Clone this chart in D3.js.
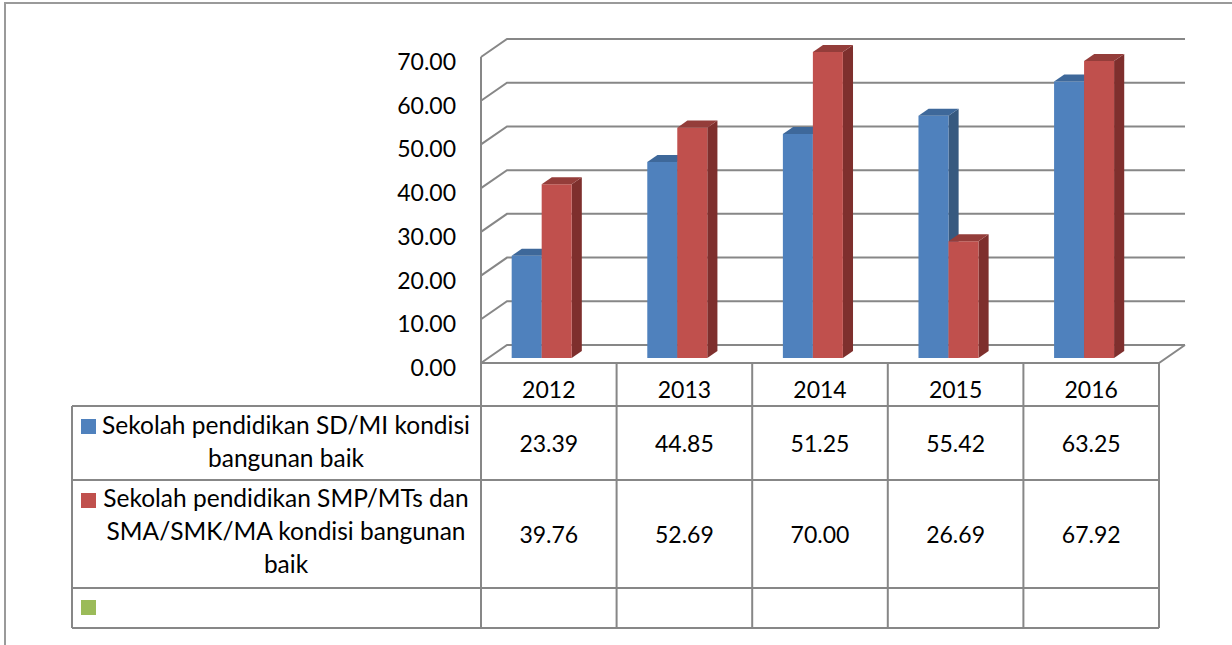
<!DOCTYPE html>
<html>
<head>
<meta charset="utf-8">
<script src="https://cdn.jsdelivr.net/npm/d3@7.9.0/dist/d3.min.js"></script>
<style>
  body { margin: 0; background: #fff; }
  svg text { font-family: Lato, "Open Sans", sans-serif; fill: #000; }
</style>
</head>
<body>
<svg id="chart" width="1232" height="645"></svg>
<script>
// data
const years = ["2012", "2013", "2014", "2015", "2016"];
const sdValues = [23.39, 44.85, 51.25, 55.42, 63.25];
const smpValues = [39.76, 52.69, 70.00, 26.69, 67.92];
const seriesNames = [
  "Sekolah pendidikan SD/MI kondisi\nbangunan baik",
  "Sekolah pendidikan SMP/MTs dan\nSMA/SMK/MA kondisi bangunan\nbaik",
  ""
];
const seriesColors = ["#4F81BD", "#C0504D", "#9BBB59"];
const sideColors = ["#37597F", "#7E2F2D"];
const topColors = ["#3E689A", "#943D3A"];
const yTicks = [0, 10, 20, 30, 40, 50, 60, 70];

const svg = d3.select("#chart");
const gridColor = "#878787";

// outer chart frame
svg.append("rect")
  .attr("x", 5).attr("y", 3)
  .attr("width", 1400).attr("height", 800)
  .attr("fill", "none").attr("stroke", "#9a9a9a").attr("stroke-width", 2);

// 3d box geometry
const left = 481, right = 1159, floorY = 363;
const DX = 26, DY = -18;
const y = d3.scaleLinear().domain([0, 70]).range([0, 306]);
const x = d3.scaleBand().domain(years).range([left, right]);
const inner = d3.scaleBand().domain([0, 1]).range([0, 60]);
const groupOffset = 23.4;
const barDepth = [0.28, 0.67];

function P(px, v, d) {
  return [px + d * DX, floorY - y(v) + d * DY];
}
const line = d3.line();

const grid = svg.append("g")
  .attr("stroke", gridColor).attr("stroke-width", 2).attr("fill", "none");

yTicks.forEach(t => {
  grid.append("path").attr("d", line([P(left, t, 0), P(left, t, 1), P(right, t, 1)]));
});
grid.append("path").attr("d", line([P(left, 70, 0), P(left, 0, 0), P(right, 0, 0), P(right, 0, 1)]));

// y tick labels
svg.append("g").selectAll("text")
  .data(yTicks)
  .join("text")
  .attr("x", 456)
  .attr("y", d => P(left, d, 0)[1] + 4)
  .attr("text-anchor", "end")
  .attr("dominant-baseline", "central")
  .style("font-size", "23px")
  .text(d => d.toFixed(2));

// bars
const series = [sdValues, smpValues];
const bars = svg.append("g");
years.forEach((yr, i) => {
  series.forEach((vals, s) => {
    const v = vals[i];
    const x0 = x(yr) + groupOffset + inner(s);
    const x1 = x0 + inner.bandwidth();
    const [d0, d1] = barDepth;
    const front = [P(x0, 0, d0), P(x1, 0, d0), P(x1, v, d0), P(x0, v, d0)];
    const top = [P(x0, v, d0), P(x1, v, d0), P(x1, v, d1), P(x0, v, d1)];
    const side = [P(x1, 0, d0), P(x1, 0, d1), P(x1, v, d1), P(x1, v, d0)];
    bars.append("path").attr("d", line(side) + "Z").attr("fill", sideColors[s]);
    bars.append("path").attr("d", line(front) + "Z").attr("fill", seriesColors[s]);
    bars.append("path").attr("d", line(top) + "Z").attr("fill", topColors[s]);
  });
});

// data table
const tableLeft = 72;
const rowLines = [406, 480, 588, 628];
const table = svg.append("g")
  .attr("stroke", gridColor).attr("stroke-width", 2).attr("fill", "none");
rowLines.forEach(ry => {
  table.append("path").attr("d", line([[tableLeft, ry], [right, ry]]));
});
table.append("path").attr("d", line([[tableLeft, rowLines[0]], [tableLeft, rowLines[3]]]));
years.concat(["end"]).forEach((yr, i) => {
  const cx = i < years.length ? x(yr) : right;
  table.append("path").attr("d", line([[cx, floorY], [cx, rowLines[3]]]));
});

// year header
svg.append("g").selectAll("text")
  .data(years)
  .join("text")
  .attr("x", d => x(d) + x.bandwidth() / 2)
  .attr("y", 398)
  .attr("text-anchor", "middle")
  .style("font-size", "23px")
  .text(d => d);

// values
const rowMid = [443, 534];
series.forEach((vals, s) => {
  svg.append("g").selectAll("text")
    .data(vals)
    .join("text")
    .attr("x", (d, i) => x(years[i]) + x.bandwidth() / 2)
    .attr("y", rowMid[s])
    .attr("text-anchor", "middle")
    .attr("dominant-baseline", "central")
    .style("font-size", "23px")
    .text(d => d.toFixed(2));
});

// legend keys and names
const keyTop = [419, 493, 600];
const firstBaseline = [434, 507];
seriesNames.forEach((name, s) => {
  svg.append("rect")
    .attr("x", 81).attr("y", keyTop[s])
    .attr("width", 15).attr("height", 15)
    .attr("fill", seriesColors[s]);
  if (!name) return;
  const t = svg.append("text")
    .attr("text-anchor", "middle")
    .style("font-size", "24.5px");
  name.split("\n").forEach((ln, k) => {
    t.append("tspan")
      .attr("x", 286)
      .attr("y", firstBaseline[s] + k * 33)
      .text(ln);
  });
});
</script>
</body>
</html>
